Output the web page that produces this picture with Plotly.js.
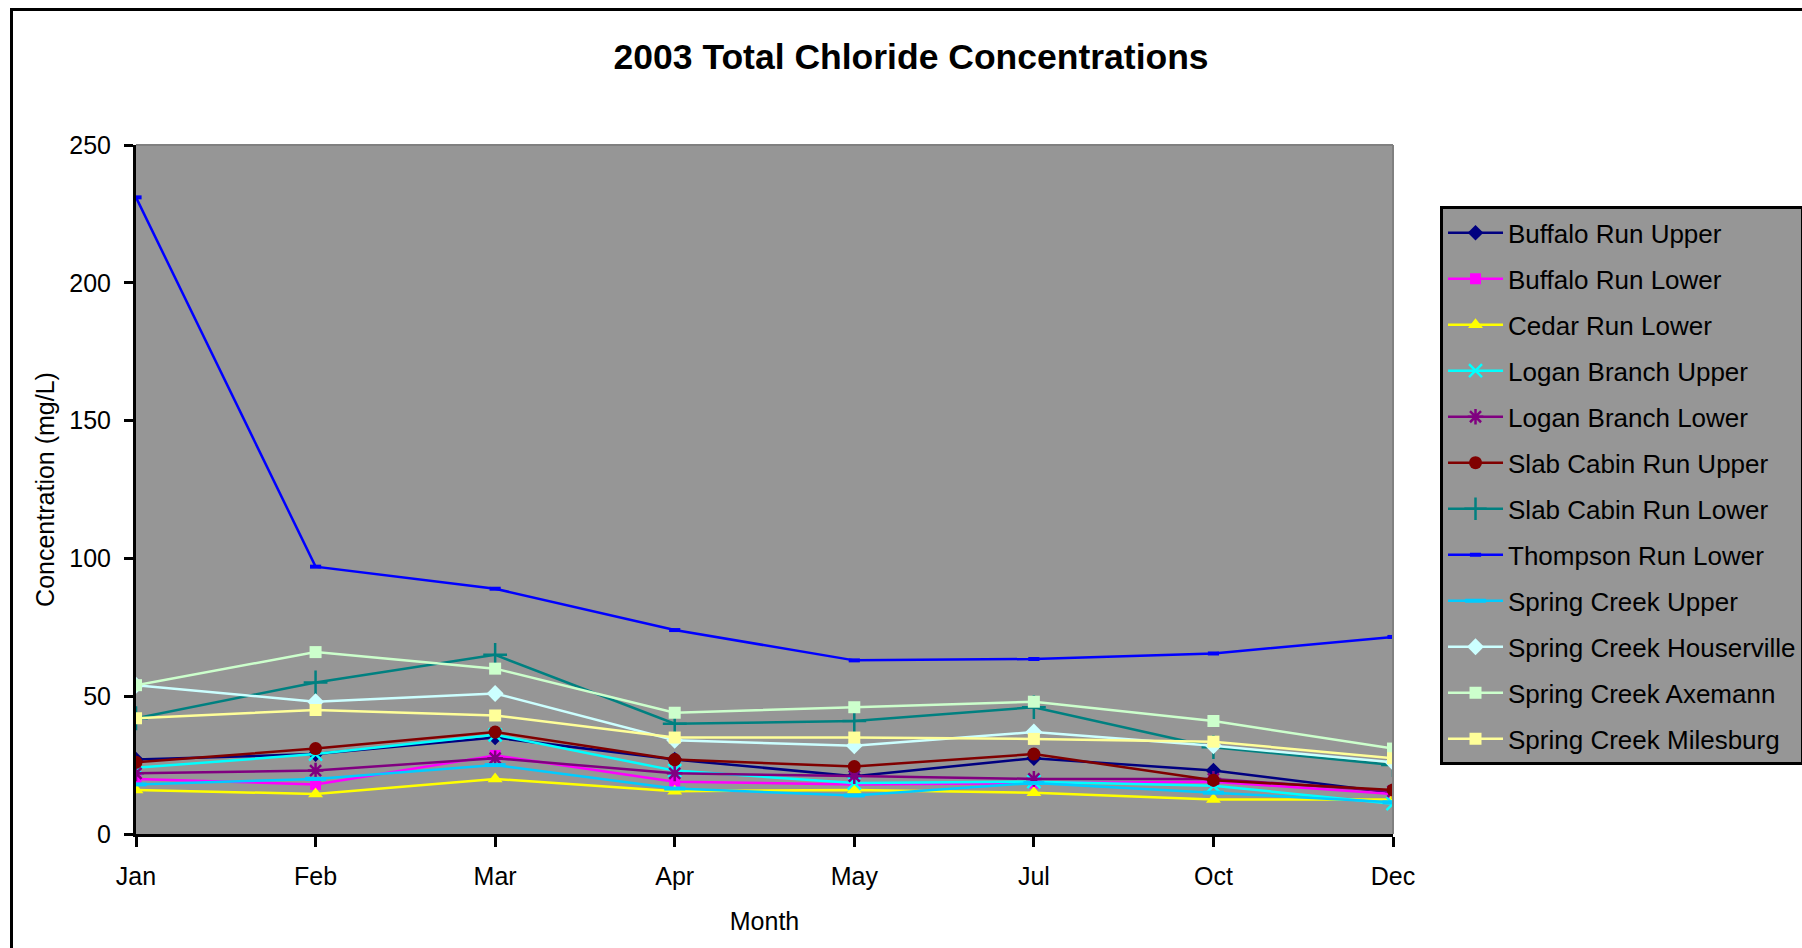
<!DOCTYPE html>
<html>
<head>
<meta charset="utf-8">
<script src="https://cdn.plot.ly/plotly-3.0.1.min.js"></script>
<style>
html,body{margin:0;padding:0;overflow:hidden;background:#fff;}
#chart{position:absolute;left:0;top:0;width:1802px;height:948px;}
#frame{position:absolute;left:10px;top:8px;width:1900px;height:1100px;border:3px solid #000;pointer-events:none;}
</style>
</head>
<body>
<div id="chart"></div>
<div id="frame"></div>
<script>
const months = ['Jan','Feb','Mar','Apr','May','Jul','Oct','Dec'];
const buffaloRunUpper   = [27, 29, 35, 27, 21, 27.5, 23, 15];
const buffaloRunLower   = [20, 18, 28.5, 19, 18, 18.5, 19, 14.5];
const cedarRunLower     = [16, 14.5, 20, 15.5, 16, 15, 12.5, 12.5];
const loganBranchUpper  = [24, 29, 36, 23, 18.5, 19, 17.5, 11];
const loganBranchLower  = [22, 23, 27.5, 22, 21, 20, 20, 15.5];
const slabCabinUpper    = [26, 31, 37, 27, 24.5, 29, 19.5, 16];
const slabCabinLower    = [42, 55, 65, 40, 41, 46, 31.5, 25];
const thompsonRunLower  = [231, 97, 89, 74, 63, 63.5, 65.5, 71.5];
const springCreekUpper  = [18, 20, 25, 16.5, 14, 18.5, 15, 11.5];
const springHouserville = [54, 48, 51, 34, 32, 37, 32, 26];
const springAxemann     = [54, 66, 60, 44, 46, 48, 41, 31];
const springMilesburg   = [42, 45, 43, 35, 35, 34.5, 33.5, 27.5];

const seriesNames = ['Buffalo Run Upper','Buffalo Run Lower','Cedar Run Lower','Logan Branch Upper',
  'Logan Branch Lower','Slab Cabin Run Upper','Slab Cabin Run Lower','Thompson Run Lower',
  'Spring Creek Upper','Spring Creek Houserville','Spring Creek Axemann','Spring Creek Milesburg'];
const seriesValues = [buffaloRunUpper, buffaloRunLower, cedarRunLower, loganBranchUpper,
  loganBranchLower, slabCabinUpper, slabCabinLower, thompsonRunLower,
  springCreekUpper, springHouserville, springAxemann, springMilesburg];
const seriesColors = ['#000080','#FF00FF','#FFFF00','#00FFFF','#800080','#800000','#008080',
  '#0000FF','#00CCFF','#CCFFFF','#CCFFCC','#FFFF99'];
const seriesSymbols = ['diamond','square','triangle-up','x-thin-open','asterisk-open','circle',
  'cross-thin-open','line-ew-open','line-ew-open','diamond','square','square'];
const seriesSizes = [12, 11, 13, 13, 13, 13, 17, 8, 15, 13, 12, 12];

const traces = seriesNames.map((name, i) => {
  const open = seriesSymbols[i].endsWith('-open');
  return {
    type: 'scatter', mode: 'lines+markers', name: name, legendgroup: 'g' + i,
    x: months, y: seriesValues[i],
    line: {color: seriesColors[i], width: 2.5},
    marker: {symbol: seriesSymbols[i], size: seriesSizes[i], color: seriesColors[i],
      line: {color: seriesColors[i], width: open ? (i === 7 || i === 8 ? 4 : 2.5) : 0}}
  };
});

const layout = {
  width: 1802, height: 948,
  paper_bgcolor: '#ffffff', plot_bgcolor: '#969696',
  margin: {l: 136, r: 409, t: 145, b: 114, autoexpand: false},
  font: {family: 'Liberation Sans, Arial, sans-serif', size: 25, color: '#000'},
  title: {text: '<b>2003 Total Chloride Concentrations</b>', font: {size: 35.5, color: '#000'},
    x: 0.5056, xref: 'container', xanchor: 'center', y: 0.94, yref: 'container', yanchor: 'middle'},
  showlegend: true,
  legend: {x: 1.0374, xanchor: 'left', y: 0.911, yanchor: 'top', bgcolor: '#969696',
    bordercolor: '#000', borderwidth: 3, tracegroupgap: 9.2, itemwidth: 55,
    font: {size: 26, color: '#000'}},
  xaxis: {type: 'category', range: [0, 7], showgrid: false, zeroline: false,
    showline: true, linecolor: '#000', linewidth: 3, ticks: 'outside', ticklen: 10,
    tickwidth: 3, tickcolor: '#000', ticklabelstandoff: 8,
    title: {text: 'Month', font: {size: 25}, standoff: 24}},
  yaxis: {range: [0, 250], dtick: 50, showgrid: false, zeroline: false,
    showline: true, linecolor: '#000', linewidth: 3, ticks: 'outside', ticklen: 9,
    tickwidth: 3, tickcolor: '#000', ticklabelstandoff: 8,
    title: {text: 'Concentration (mg/L)', font: {size: 25}, standoff: 8}},
  shapes: [
    {type: 'line', xref: 'paper', yref: 'paper', x0: 0, x1: 1, y0: 1, y1: 1, line: {color: '#808080', width: 2}},
    {type: 'line', xref: 'paper', yref: 'paper', x0: 1, x1: 1, y0: 0, y1: 1, line: {color: '#808080', width: 2}}
  ]
};

Plotly.newPlot('chart', traces, layout, {displayModeBar: false, staticPlot: true});
</script>
</body>
</html>
